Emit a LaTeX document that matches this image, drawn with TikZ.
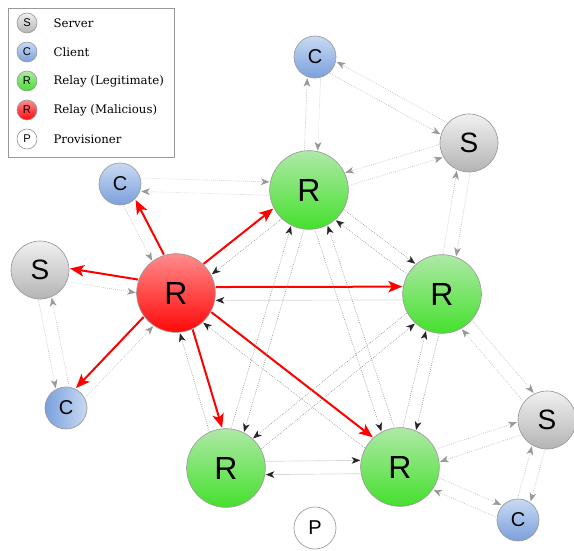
\documentclass[tikz,border=0pt]{standalone}
\usepackage{fontspec}
\setmainfont{DejaVu Serif}
\setsansfont{Liberation Sans}
\usetikzlibrary{arrows.meta,calc,positioning}

\definecolor{rim}{HTML}{9A9A9A}
\definecolor{srvtop}{HTML}{F0F0F0}
\definecolor{srvbot}{HTML}{B4B4B4}
\definecolor{clitop}{HTML}{C8DAF3}
\definecolor{clibot}{HTML}{7BA0DC}
\definecolor{reltop}{HTML}{AEE9A6}
\definecolor{relbot}{HTML}{45E02D}
\definecolor{maltop}{HTML}{FF8C8C}
\definecolor{malbot}{HTML}{FF0808}

\tikzset{
  unit/.style={circle, draw=rim, line width=0.5pt, inner sep=0pt, text=black},
  srv/.style={unit, minimum size=43.5pt, top color=srvtop, bottom color=srvbot, font=\fontsize{21}{21}\sffamily},
  cli/.style={unit, minimum size=31.5pt, top color=clitop, bottom color=clibot, font=\fontsize{15}{15}\sffamily},
  rel/.style={unit, minimum size=59pt, top color=reltop, bottom color=relbot, font=\fontsize{24}{24}\sffamily},
  mal/.style={rel, top color=maltop, bottom color=malbot},
  prov/.style={unit, minimum size=31.5pt, fill=white, font=\fontsize{15}{15}\sffamily},
  mini/.style={minimum size=15pt, font=\fontsize{8.4}{8.4}\sffamily},
  entry/.style={right=11pt of #1, inner sep=1pt, font=\fontsize{8.8}{10}\selectfont},
  grayflow/.style={densely dotted, draw=gray!55, line width=0.5pt, -{Stealth[length=6.5pt, width=5pt, inset=1.8pt, color=gray!80]}},
  relayflow/.style={densely dotted, draw=gray!90, line width=0.5pt, -{Stealth[length=6.5pt, width=5pt, inset=1.8pt, color=black!85]}},
  attack/.style={red, line width=1.5pt, -{Stealth[length=10.5pt, width=8.5pt, inset=2.5pt]}},
}

\newcommand{\flow}[4][5pt]{%
  \pgfmathanglebetweenpoints{\pgfpointanchor{#3}{center}}{\pgfpointanchor{#4}{center}}%
  \let\flowang\pgfmathresult
  \pgfmathsetmacro\flowgna{\flowang+180}%
  \draw[#2] ($(#3.\flowang)!#1!90:(#4)$) -- ($(#4.\flowgna)!#1!-90:(#3)$);
}
\newcommand{\duplex}[4][5pt]{\flow[#1]{#2}{#3}{#4}\flow[#1]{#2}{#4}{#3}}

\begin{document}
\begin{tikzpicture}[x=0.75pt, y=-0.75pt]
    \useasboundingbox (0,0) rectangle (574,550);

    \draw[gray!80, line width=0.6pt] (8,8) rectangle (174,157);
    \node[srv, mini] (lgS) at (27,23) {S};
    \node[cli, mini] (lgC) at (27,52) {C};
    \node[rel, mini] (lgR) at (27,81) {R};
    \node[mal, mini] (lgM) at (27,110) {R};
    \node[prov, mini] (lgP) at (27,139) {P};
    \node[entry=lgS] (txS) {Server};
    \node[entry=lgC] (txC) {Client};
    \node[entry=lgR] (txR) {Relay (Legitimate)};
    \node[entry=lgM] (txM) {Relay (Malicious)};
    \node[entry=lgP] (txP) {Provisioner};

    \node[cli] (C1) at (315,57) {C};
    \node[srv] (S1) at (469,143) {S};
    \node[rel] (R1) at (309,190) {R};
    \node[cli] (C2) at (120,184) {C};
    \node[srv] (S2) at (40,270) {S};
    \node[mal] (Rm) at (176,293) {R};
    \node[rel] (R2) at (442,294) {R};
    \node[cli, left color=clibot, right color=clitop] (C3) at (66,408) {C};
    \node[srv] (S3) at (547,420) {S};
    \node[rel] (R3) at (226,468) {R};
    \node[rel] (R4) at (400,467) {R};
    \node[cli] (C4) at (518,520) {C};
    \node[prov] (P) at (315,528) {P};

    \flow[-5pt]{attack}{Rm}{C2} \flow[-5pt]{grayflow}{C2}{Rm}
    \flow[-5pt]{attack}{Rm}{S2} \flow[-5pt]{grayflow}{S2}{Rm}
    \flow[-5pt]{attack}{Rm}{C3} \flow[-5pt]{grayflow}{C3}{Rm}
    \flow{attack}{Rm}{R1} \flow{relayflow}{R1}{Rm}
    \flow{attack}{Rm}{R2} \flow{relayflow}{R2}{Rm}
    \flow{attack}{Rm}{R3} \flow{relayflow}{R3}{Rm}
    \flow{attack}{Rm}{R4} \flow{relayflow}{R4}{Rm}

    \duplex{grayflow}{C1}{R1}
    \duplex[-5pt]{grayflow}{C1}{S1}
    \duplex[-5pt]{grayflow}{S1}{R1}
    \duplex{grayflow}{C2}{R1}
    \duplex[-5pt]{grayflow}{S2}{C3}
    \duplex{grayflow}{S1}{R2}
    \duplex{grayflow}{R2}{S3}
    \duplex{grayflow}{R4}{S3}
    \duplex{grayflow}{C4}{S3}
    \duplex{grayflow}{R4}{C4}

    \duplex{relayflow}{R1}{R2}
    \duplex{relayflow}{R1}{R3}
    \duplex[-5pt]{relayflow}{R1}{R4}
    \duplex[-5pt]{relayflow}{R2}{R3}
    \duplex{relayflow}{R2}{R4}
    \duplex{relayflow}{R3}{R4}
\end{tikzpicture}
\end{document}
